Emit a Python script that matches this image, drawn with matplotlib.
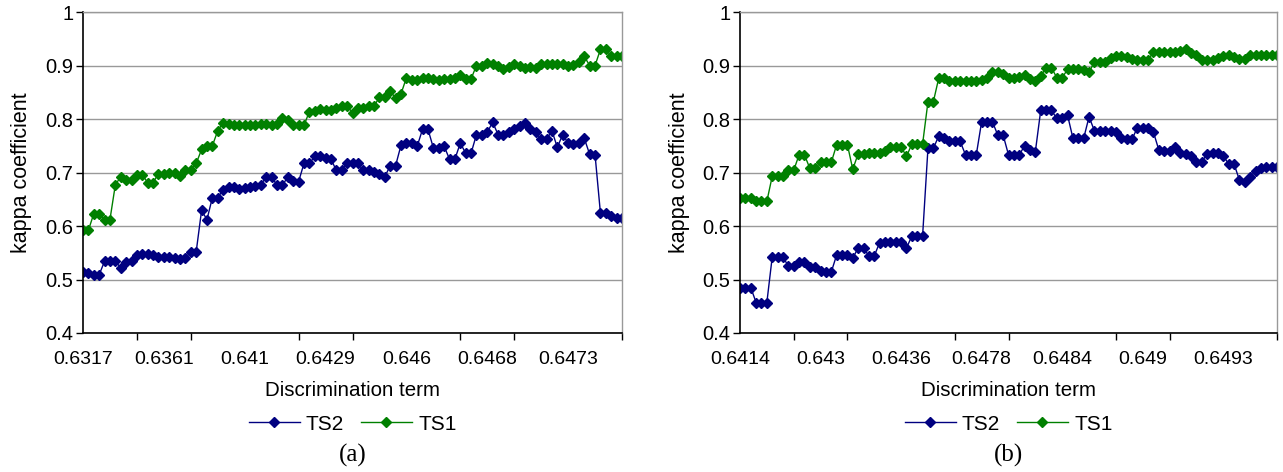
import matplotlib
matplotlib.use("Agg")
import matplotlib.pyplot as plt
import numpy as np

# panel (a)
a_ts2 = [0.514, 0.513, 0.508, 0.509, 0.534, 0.535, 0.534, 0.522, 0.533, 0.534,
         0.546, 0.547, 0.547, 0.545, 0.542, 0.542, 0.542, 0.541, 0.538, 0.540,
         0.552, 0.552, 0.629, 0.612, 0.653, 0.653, 0.668, 0.673, 0.673, 0.670,
         0.671, 0.673, 0.674, 0.677, 0.692, 0.692, 0.676, 0.676, 0.692, 0.684,
         0.683, 0.717, 0.717, 0.730, 0.730, 0.727, 0.725, 0.704, 0.704, 0.717,
         0.717, 0.717, 0.704, 0.704, 0.701, 0.698, 0.692, 0.713, 0.713, 0.751,
         0.755, 0.755, 0.749, 0.781, 0.781, 0.746, 0.746, 0.749, 0.725, 0.725,
         0.755, 0.736, 0.736, 0.771, 0.771, 0.775, 0.794, 0.771, 0.771, 0.775,
         0.781, 0.787, 0.792, 0.781, 0.775, 0.762, 0.762, 0.778, 0.747, 0.771,
         0.755, 0.754, 0.755, 0.764, 0.734, 0.733, 0.624, 0.624, 0.619, 0.615,
         0.615]
a_ts1 = [0.592, 0.592, 0.623, 0.623, 0.612, 0.612, 0.677, 0.692, 0.686, 0.686,
         0.696, 0.696, 0.681, 0.681, 0.698, 0.698, 0.700, 0.699, 0.693, 0.705,
         0.705, 0.717, 0.743, 0.750, 0.750, 0.778, 0.793, 0.790, 0.788, 0.788,
         0.788, 0.788, 0.788, 0.790, 0.790, 0.788, 0.790, 0.802, 0.798, 0.788,
         0.788, 0.788, 0.814, 0.815, 0.818, 0.816, 0.816, 0.820, 0.824, 0.824,
         0.812, 0.820, 0.820, 0.824, 0.824, 0.841, 0.841, 0.852, 0.839, 0.847,
         0.877, 0.873, 0.872, 0.876, 0.876, 0.875, 0.873, 0.875, 0.875, 0.877,
         0.882, 0.875, 0.875, 0.900, 0.900, 0.905, 0.902, 0.899, 0.894, 0.897,
         0.903, 0.900, 0.895, 0.897, 0.895, 0.903, 0.903, 0.903, 0.903, 0.903,
         0.900, 0.901, 0.906, 0.917, 0.900, 0.900, 0.930, 0.930, 0.918, 0.918,
         0.917]
a_labels = ["0.6317", "0.6361", "0.641", "0.6429", "0.646", "0.6468", "0.6473"]

# panel (b)
b_ts2 = [0.485, 0.485, 0.485, 0.457, 0.457, 0.457, 0.542, 0.542, 0.542, 0.525,
         0.525, 0.532, 0.532, 0.523, 0.523, 0.515, 0.514, 0.514, 0.546, 0.546,
         0.546, 0.540, 0.559, 0.559, 0.544, 0.544, 0.569, 0.571, 0.571, 0.571,
         0.571, 0.559, 0.581, 0.581, 0.581, 0.745, 0.745, 0.768, 0.764, 0.758,
         0.758, 0.758, 0.733, 0.733, 0.733, 0.795, 0.795, 0.795, 0.770, 0.770,
         0.733, 0.733, 0.733, 0.750, 0.742, 0.739, 0.816, 0.816, 0.816, 0.801,
         0.801, 0.807, 0.764, 0.764, 0.764, 0.804, 0.778, 0.778, 0.778, 0.778,
         0.776, 0.764, 0.762, 0.762, 0.784, 0.784, 0.784, 0.775, 0.742, 0.741,
         0.741, 0.747, 0.737, 0.735, 0.730, 0.720, 0.720, 0.735, 0.736, 0.736,
         0.731, 0.716, 0.716, 0.686, 0.683, 0.692, 0.702, 0.708, 0.710, 0.710,
         0.710]
b_ts1 = [0.652, 0.652, 0.652, 0.646, 0.646, 0.646, 0.693, 0.693, 0.693, 0.704,
         0.704, 0.733, 0.733, 0.708, 0.708, 0.719, 0.719, 0.719, 0.752, 0.752,
         0.752, 0.706, 0.735, 0.735, 0.737, 0.737, 0.737, 0.741, 0.748, 0.748,
         0.748, 0.730, 0.753, 0.753, 0.753, 0.832, 0.832, 0.876, 0.876, 0.871,
         0.871, 0.871, 0.871, 0.871, 0.871, 0.872, 0.876, 0.887, 0.887, 0.885,
         0.877, 0.877, 0.878, 0.882, 0.874, 0.871, 0.880, 0.896, 0.896, 0.877,
         0.877, 0.893, 0.893, 0.893, 0.891, 0.887, 0.907, 0.907, 0.907, 0.914,
         0.917, 0.917, 0.915, 0.913, 0.911, 0.911, 0.911, 0.925, 0.925, 0.925,
         0.925, 0.925, 0.927, 0.931, 0.923, 0.920, 0.911, 0.911, 0.911, 0.914,
         0.917, 0.920, 0.915, 0.913, 0.913, 0.919, 0.919, 0.919, 0.919, 0.919,
         0.919]
b_labels = ["0.6414", "0.643", "0.6436", "0.6478", "0.6484", "0.649", "0.6493"]

plt.rcParams["font.family"] = ["Liberation Sans", "DejaVu Sans"]

BLUE = "#000080"
GREEN = "#008000"


def draw_panel(ax, ts2, ts1, labels, tag):
    x = np.arange(len(ts2))
    ax.plot(x, ts2, color=BLUE, marker="D", markersize=5.0, lw=1.0, label="TS2")
    ax.plot(x, ts1, color=GREEN, marker="D", markersize=5.0, lw=1.0, label="TS1")

    ax.set_xlim(0, len(ts2) - 1)
    ax.set_ylim(0.4, 1.0)
    ax.set_yticks(np.arange(0.4, 1.01, 0.1))
    ax.set_yticklabels(["0.4", "0.5", "0.6", "0.7", "0.8", "0.9", "1"])
    ax.yaxis.grid(True, color="#999999", lw=1.0)
    ax.set_axisbelow(True)

    # labels every 15 categories, tick marks every 10
    ax.set_xticks(np.arange(0, len(ts2), 15)[:len(labels)])
    ax.set_xticklabels(labels)
    ax.set_xticks(np.arange(0, len(ts2), 10), minor=True)
    ax.tick_params(axis="x", which="major", length=0, pad=13, labelsize=14)
    ax.tick_params(axis="x", which="minor", length=5, width=1, direction="out")
    ax.tick_params(axis="y", length=5, width=1, labelsize=14.5, pad=2)

    for s in ("left", "bottom"):
        ax.spines[s].set_color("black")
        ax.spines[s].set_linewidth(1.2)
    for s in ("top", "right"):
        ax.spines[s].set_color("#999999")
        ax.spines[s].set_linewidth(1.0)

    ax.set_xlabel("Discrimination term", fontsize=14.8)
    ax.xaxis.set_label_coords(0.5, -0.148)
    ax.set_ylabel("kappa coefficient", fontsize=15.5)
    ax.yaxis.set_label_coords(-0.094, 0.5)
    ax.legend(loc="center", bbox_to_anchor=(0.5, -0.284), ncol=2,
              frameon=False, fontsize=15, handlelength=2.45, columnspacing=0.8,
              handletextpad=0.3)
    ax.text(0.5, -0.383, tag, transform=ax.transAxes, ha="center", va="center",
            fontsize=18, family=["Liberation Serif", "DejaVu Serif"])


fig = plt.figure(figsize=(12.83, 4.72), dpi=100)
ax1 = fig.add_axes([83 / 1283, 139 / 472, 539 / 1283, 321 / 472])
ax2 = fig.add_axes([740 / 1283, 139 / 472, 537 / 1283, 321 / 472])
draw_panel(ax1, a_ts2, a_ts1, a_labels, "(a)")
draw_panel(ax2, b_ts2, b_ts1, b_labels, "(b)")

fig.savefig("out.png", dpi=100)
